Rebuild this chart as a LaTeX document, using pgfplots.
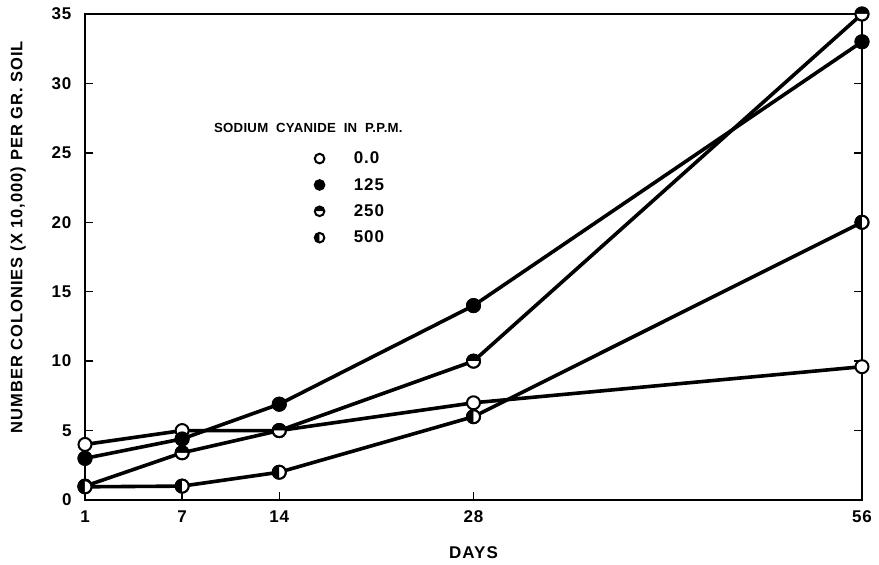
\documentclass[border=0pt]{standalone}
\usepackage{fontspec}
\setmainfont{Liberation Sans}[LetterSpace=6]
\newfontfamily\tightfont{Liberation Sans}[LetterSpace=2]
\usepackage{pgfplots}
\pgfplotsset{compat=1.18}
\usetikzlibrary{plotmarks}
\begin{document}
\begin{tikzpicture}
\begin{axis}[
  scale only axis, width=777pt, height=486pt,
  at={(0,0)}, anchor=south west,
  xmin=0, xmax=56, ymin=0, ymax=35,
  xtick={0,7,14,28,56}, xticklabels={1,7,14,28,56},
  ytick={0,5,10,15,20,25,30,35},
  xtick pos=bottom, ytick pos=both,
  tick align=inside, major tick length=8pt,
  tick style={line width=1.5pt, black},
  axis line style={line width=2.8pt},
  /pgf/number format/assume math mode=true,
  ticklabel style={font=\bfseries\fontsize{17}{17}\selectfont},
  xticklabel style={yshift=-7pt},
  yticklabel style={xshift=-10pt},
  xlabel={DAYS}, ylabel={NUMBER COLONIES (X 10,000) PER GR. SOIL},
  every axis x label/.style={at={(axis description cs:0.5,-0.109)}, anchor=center, font=\bfseries\fontsize{17}{17}\selectfont},
  every axis y label/.style={at={(axis description cs:-0.0862,0.541)}, rotate=90, anchor=center, font=\bfseries\fontsize{16.5}{16.5}\selectfont},
  clip=false,
  legend style={at={(axis cs:16.3,25.3)}, anchor=north west, draw=none, fill=none,
    font=\bfseries\fontsize{17}{17}\selectfont, row sep=11pt,
    nodes={inner sep=1pt}},
  legend cell align=left,
  legend image code/.code={\draw[#1, mark size=4.8pt] plot coordinates {(0pt,0pt)}; \path (-5pt,0pt) (33pt,0pt);},
]
% lines
\addplot[line width=3.6pt, forget plot] coordinates {(0,4) (7,5) (14,5) (28,7) (56,9.6)};
\addplot[line width=3.6pt, forget plot] coordinates {(0,3) (7,4.4) (14,6.9) (28,14) (56,33)};
\addplot[line width=3.6pt, forget plot] coordinates {(0,1) (7,3.4) (14,5) (28,10) (56,35)};
\addplot[line width=3.6pt, forget plot] coordinates {(0,0.95) (7,1) (14,2) (28,6) (56,20)};
% white backgrounds
\addplot[only marks, mark=*, mark size=6.5pt, mark options={fill=white, draw=black, line width=2pt}, forget plot] coordinates {(0,3) (7,4.4) (14,6.9) (28,14) (56,33)};
\addplot[only marks, mark=*, mark size=6.5pt, mark options={fill=white, draw=black, line width=2pt}, forget plot] coordinates {(0,1) (7,3.4) (14,5) (28,10) (56,35)};
\addplot[only marks, mark=*, mark size=6.5pt, mark options={fill=white, draw=black, line width=2pt}, forget plot] coordinates {(0,0.95) (7,1) (14,2) (28,6) (56,20)};
% markers
\addplot[only marks, mark=*, mark size=6.5pt, mark options={fill=white, draw=black, line width=2pt}] coordinates {(0,4) (7,5) (14,5) (28,7) (56,9.6)};
\addlegendentry{0.0}
\addplot[only marks, mark=*, mark size=6.5pt, mark options={fill=black, draw=black, line width=2pt}] coordinates {(0,3) (7,4.4) (14,6.9) (28,14) (56,33)};
\addlegendentry{125}
\addplot[only marks, mark=halfcircle*, mark size=6.5pt, mark options={fill=black, draw=black, line width=2pt}] coordinates {(0,1) (7,3.4) (14,5) (28,10) (56,35)};
\addlegendentry{250}
\addplot[only marks, mark=halfcircle*, mark size=6.5pt, mark options={fill=black, draw=black, line width=2pt, rotate=90}] coordinates {(0,0.95) (7,1) (14,2) (28,6) (56,20)};
\addlegendentry{500}
\node[font=\tightfont\bfseries\fontsize{13.2}{13.2}\selectfont] at (axis cs:16.1,26.8) {SODIUM\ \ CYANIDE\ \ IN\ \ P.P.M.};
\end{axis}
\pgfresetboundingbox
\path (-85pt,-65pt) rectangle (794pt,500pt);
\end{tikzpicture}
\end{document}
